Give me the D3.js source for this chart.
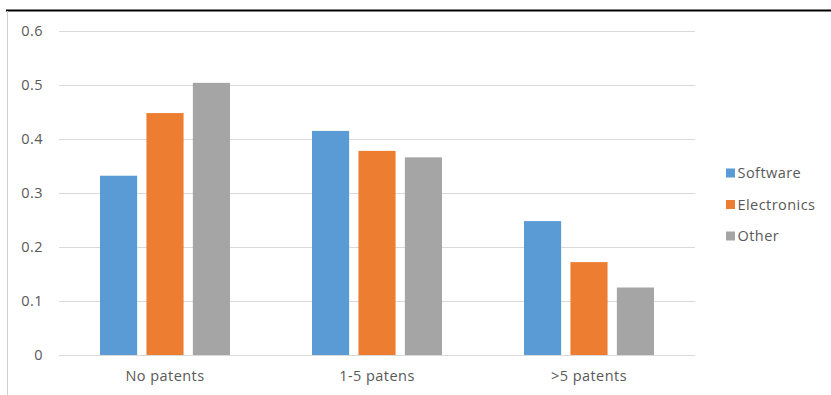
<!DOCTYPE html>
<html>
<head>
<meta charset="utf-8">
<script src="https://cdn.jsdelivr.net/npm/d3@7"></script>
<style>
  html, body { margin: 0; padding: 0; background: #fff; }
  svg { display: block; font-family: "Open Sans", "Noto Sans", sans-serif; }
</style>
</head>
<body>
<svg id="chart" width="831" height="395"></svg>
<script>
// Share of firms by patent count, per sector
const categories = ["No patents", "1-5 patens", ">5 patents"];
const seriesNames = ["Software", "Electronics", "Other"];
const software    = [0.332, 0.415, 0.248];
const electronics = [0.448, 0.378, 0.172];
const other       = [0.504, 0.366, 0.125];
const yTicks = [0, 0.1, 0.2, 0.3, 0.4, 0.5, 0.6];
const tickLabels = ["0", "0.1", "0.2", "0.3", "0.4", "0.5", "0.6"];
const colors = ["#5B9BD5", "#ED7D31", "#A5A5A5"];

const seriesValues = [software, electronics, other];
const rows = categories.map((c, i) => ({
  category: c,
  values: seriesNames.map((s, j) => ({ series: s, value: seriesValues[j][i], idx: j }))
}));

const svg = d3.select("#chart");
const plot = { left: 59, right: 695, top: 31, bottom: 355 };
const fontSize = 14.5;
const spacing = "0.45px";

// frame: dark top rule and a faint left edge
svg.append("line")
  .attr("x1", 6).attr("x2", 831).attr("y1", 10.5).attr("y2", 10.5)
  .attr("stroke", "#000").attr("stroke-width", 2);
svg.append("line")
  .attr("x1", 7.5).attr("x2", 7.5).attr("y1", 11).attr("y2", 395)
  .attr("stroke", "#d0d0d0").attr("stroke-width", 1);

const y = d3.scaleLinear().domain([0, 0.6]).range([plot.bottom, plot.top]);
const x0 = d3.scaleBand().domain(categories).range([plot.left, plot.right]).padding(0);
const groupInset = 41;
const x1 = d3.scaleBand().domain(seriesNames)
  .range([groupInset, x0.bandwidth() - groupInset])
  .paddingInner(0.2).paddingOuter(0);

// gridlines
svg.append("g")
  .selectAll("line")
  .data(yTicks)
  .join("line")
  .attr("x1", plot.left).attr("x2", plot.right)
  .attr("y1", d => Math.round(y(d)) + 0.5).attr("y2", d => Math.round(y(d)) + 0.5)
  .attr("stroke", "#d9d9d9").attr("stroke-width", 1);

// y tick labels
svg.append("g")
  .selectAll("text")
  .data(yTicks)
  .join("text")
  .attr("x", 43)
  .attr("y", d => y(d))
  .attr("dy", "0.36em")
  .attr("text-anchor", "end")
  .attr("font-size", fontSize)
  .attr("letter-spacing", spacing)
  .attr("fill", "#595959")
  .text((d, i) => tickLabels[i]);

// bars
const groups = svg.append("g")
  .selectAll("g")
  .data(rows)
  .join("g")
  .attr("transform", d => `translate(${x0(d.category)},0)`);

groups.selectAll("rect")
  .data(d => d.values)
  .join("rect")
  .attr("x", d => x1(d.series))
  .attr("y", d => y(d.value))
  .attr("width", x1.bandwidth())
  .attr("height", d => y(0) - y(d.value))
  .attr("fill", d => colors[d.idx]);

// category labels
svg.append("g")
  .selectAll("text")
  .data(categories)
  .join("text")
  .attr("x", d => x0(d) + x0.bandwidth() / 2)
  .attr("y", 381)
  .attr("text-anchor", "middle")
  .attr("font-size", fontSize)
  .attr("letter-spacing", spacing)
  .attr("fill", "#595959")
  .text(d => d);

// legend
const legend = svg.append("g").attr("transform", "translate(726,0)");
const legendY = [173, 204.5, 236];
const items = legend.selectAll("g")
  .data(seriesNames)
  .join("g")
  .attr("transform", (d, i) => `translate(0,${legendY[i]})`);
items.append("rect")
  .attr("x", 0).attr("y", -4.5)
  .attr("width", 9).attr("height", 9)
  .attr("fill", (d, i) => colors[i]);
items.append("text")
  .attr("x", 11.5)
  .attr("y", 0)
  .attr("dy", "0.36em")
  .attr("font-size", fontSize)
  .attr("letter-spacing", spacing)
  .attr("fill", "#595959")
  .text(d => d);
</script>
</body>
</html>
